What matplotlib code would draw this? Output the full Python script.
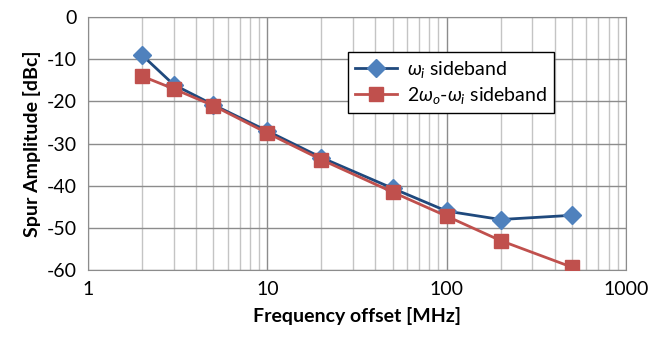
import matplotlib
matplotlib.use("Agg")
import matplotlib.pyplot as plt
from matplotlib.ticker import LogLocator, FixedLocator, NullFormatter

plt.rcParams['font.family'] = ['Lato', 'DejaVu Sans']
plt.rcParams['mathtext.fontset'] = 'custom'
plt.rcParams['mathtext.it'] = 'Lato:italic'
plt.rcParams['mathtext.rm'] = 'Lato'

# data
freq = [2, 3, 5, 10, 20, 50, 100, 200, 500]
wi_sb = [-9, -16, -20.8, -27, -33.3, -40.6, -46, -48, -47]
w2o_sb = [-14, -17, -21, -27.5, -33.8, -41.5, -47.2, -53, -59.3]
yticks = [0, -10, -20, -30, -40, -50, -60]

fig = plt.figure(figsize=(6.52, 3.49), dpi=100)
ax = fig.add_axes([0.135, 0.226, 0.825, 0.725])

ax.plot(freq, wi_sb, color='#1F497D', lw=2, marker='D', ms=9,
        mfc='#4F81BD', mec='#4F81BD', label=r'$\omega_i$ sideband', zorder=3)
ax.plot(freq, w2o_sb, color='#C0504D', lw=2, marker='s', ms=10,
        mfc='#C0504D', mec='#C0504D', label=r'$\it{2}\omega_o$-$\omega_i$ sideband', zorder=4)

ax.set_xscale('log')
ax.set_xlim(1, 1000)
ax.set_ylim(-60, 0)
ax.xaxis.set_minor_locator(LogLocator(base=10, subs=range(2, 10)))
ax.xaxis.set_minor_formatter(NullFormatter())
ax.set_xticks([1, 10, 100, 1000])
ax.set_xticklabels(['1', '10', '100', '1000'])
ax.yaxis.set_major_locator(FixedLocator(yticks))
ax.set_yticklabels([str(v) for v in yticks])

ax.grid(which='major', color='#8c8c8c', lw=1)
ax.grid(which='minor', axis='x', color='#c4c4c4', lw=1)
ax.tick_params(which='both', length=0, labelsize=14, pad=8)
for s in ax.spines.values():
    s.set_color('#8c8c8c')

ax.set_xlabel('Frequency offset [MHz]', fontsize=14, fontweight='bold', labelpad=6)
ax.set_ylabel('Spur Amplitude [dBc]', fontsize=14, fontweight='bold', labelpad=4)

leg = ax.legend(loc='upper left', bbox_to_anchor=(0.465, 0.9), fontsize=14,
                frameon=True, fancybox=False, framealpha=1, edgecolor='black',
                handlelength=2.2, borderpad=0.35, labelspacing=0.25, handletextpad=0.5)
leg.get_frame().set_linewidth(1)

fig.savefig('out.png', dpi=100)
